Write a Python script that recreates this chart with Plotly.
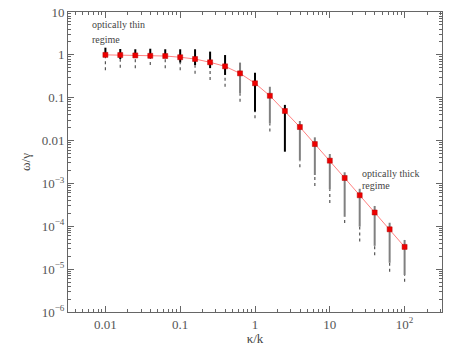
import numpy as np
import plotly.graph_objects as go

# kappa/k values
kappa = [0.01, 0.0158, 0.0251, 0.0398, 0.0631, 0.1, 0.158, 0.251, 0.398, 0.631,
         1.0, 1.58, 2.51, 3.98, 6.31, 10.0, 15.8, 25.1, 39.8, 63.1, 100.0]
# omega/gamma (red squares)
omega = [1.0, 0.99, 0.97, 0.95, 0.94, 0.88, 0.80, 0.67, 0.54, 0.37,
         0.217, 0.111, 0.049, 0.0207, 0.0083, 0.0034, 0.00134, 5.3e-4, 2.1e-4, 8.5e-5, 3.3e-5]
# spread bars
bar_hi = [1.47, 1.37, 1.35, 1.39, 1.35, 1.35, 1.35, 1.19, 0.99, 0.66,
          0.38, 0.18, 0.068, 0.0286, 0.0119, 0.00486, 0.00182, 7.5e-4, 2.98e-4, 1.21e-4, 4.8e-5]
bar_lo = [0.94, 0.80, 0.94, 0.91, 0.88, 0.66, 0.58, 0.49, 0.34, 0.127,
          0.047, 0.025, 0.0055, 0.0034, 0.00157, 7.3e-4, 1.67e-4, 9.8e-5, 3.5e-5, 1.41e-5, 7.3e-6]
dot_lo = [0.44, 0.50, 0.49, 0.58, 0.49, 0.44, 0.36, 0.26, 0.18, 0.081,
          0.033, 0.0163, 0.0055, 0.0024, 8.7e-4, 3.5e-4, 1.19e-4, 4.4e-5, 2.1e-5, 8.7e-6, 5.1e-6]
bar_dark = [1, 1, 1, 1, 1, 1, 1, 1, 1, 0, 1, 0, 1, 0, 0, 0, 0, 0, 0, 0, 0]

x_tickvals = [0.01, 0.1, 1, 10, 100]
x_ticktext = ["0.01", "0.1", "1", "10", "10<sup>2</sup>"]
y_tickvals = [10, 1, 0.1, 0.01, 1e-3, 1e-4, 1e-5, 1e-6]
y_ticktext = ["10", "1", "0.1", "0.01", "10<sup>−3</sup>", "10<sup>−4</sup>", "10<sup>−5</sup>", "10<sup>−6</sup>"]

FONT = "Liberation Serif, DejaVu Serif, serif"

fig = go.Figure()

def seg(xs, lo, hi):
    X, Y = [], []
    for x, a, b in zip(xs, lo, hi):
        X += [x, x, None]
        Y += [a, b, None]
    return X, Y

# dotted extensions
X, Y = seg(kappa, dot_lo, bar_lo)
fig.add_trace(go.Scatter(x=X, y=Y, mode="lines", line=dict(color="#555555", width=1.2, dash="dot"),
                         hoverinfo="skip", showlegend=False))
# bars dark / gray
for flag, col in [(0, "#808080"), (1, "#000000")]:
    xs = [k for k, d in zip(kappa, bar_dark) if d == flag]
    lo = [v for v, d in zip(bar_lo, bar_dark) if d == flag]
    hi = [v for v, d in zip(bar_hi, bar_dark) if d == flag]
    X, Y = seg(xs, lo, hi)
    fig.add_trace(go.Scatter(x=X, y=Y, mode="lines", line=dict(color=col, width=2),
                             hoverinfo="skip", showlegend=False))

fig.add_trace(go.Scatter(x=kappa, y=omega, mode="lines+markers",
                         line=dict(color="#ff8080", width=1),
                         marker=dict(symbol="square", size=5, color="#ee0000",
                                     line=dict(color="#b00000", width=0.5)),
                         showlegend=False))

minor_x = [m * 10.0 ** e for e in range(-3, 3) for m in range(2, 10)]
minor_x = [v for v in minor_x if 10 ** -2.5 <= v <= 10 ** 2.5]
minor_y = [m * 10.0 ** e for e in range(-6, 1) for m in range(2, 10)]

axis_common = dict(showgrid=False, zeroline=False, showline=True, linecolor="#666666", linewidth=1,
                   mirror="ticks", ticks="inside", ticklen=6, tickcolor="#666666", automargin=False,
                   ticklabeloverflow="allow",
                   tickfont=dict(family=FONT, size=13, color="#555555"))

fig.update_xaxes(type="log", range=[-2.5, 2.5], tickvals=x_tickvals, ticktext=x_ticktext,
                 minor=dict(tickvals=minor_x, ticks="inside", ticklen=3, tickcolor="#666666"),
                 title=dict(text="κ/k", font=dict(family=FONT, size=13, color="#444444"), standoff=0),
                 **axis_common)
fig.update_yaxes(type="log", range=[-6, 1], tickvals=y_tickvals, ticktext=y_ticktext,
                 minor=dict(tickvals=minor_y, ticks="inside", ticklen=3, tickcolor="#666666"),
                 title=dict(text="ω/γ", font=dict(family=FONT, size=13, color="#444444"), standoff=8),
                 **axis_common)

ann_font = dict(family=FONT, size=10, color="#444444")
for txt, x, y in [("optically thin", -2.2, 0.70), ("regime", -2.2, 0.35),
                  ("optically thick", 1.40, -2.76), ("regime", 1.40, -3.05)]:
    fig.add_annotation(x=x, y=y, xref="x", yref="y", text=txt, showarrow=False,
                       xanchor="left", yanchor="middle", font=ann_font)

fig.update_layout(width=463, height=346, margin=dict(l=68, r=21, t=12, b=34),
                  plot_bgcolor="white", paper_bgcolor="white", hovermode=False)

# remove the browser's default 8px body margin so the figure fills the window
fig.write_html("out.html", config={"displayModeBar": False},
               post_script="document.body.style.margin='0';")
